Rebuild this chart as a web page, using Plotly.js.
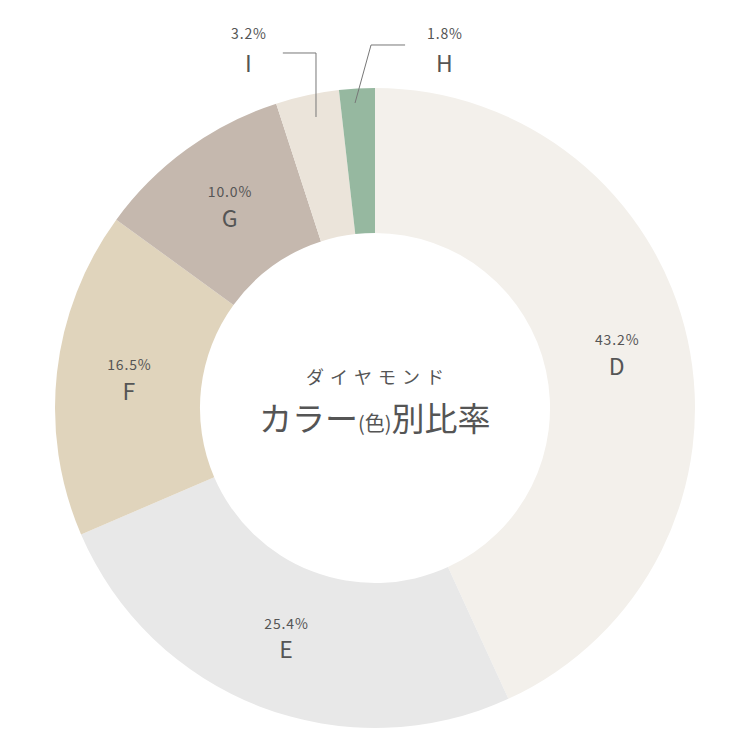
<!DOCTYPE html>
<html>
<head>
<meta charset="utf-8">
<script src="https://cdn.plot.ly/plotly-3.0.1.min.js"></script>
<style>body{margin:0;background:#fff}</style>
</head>
<body>
<div id="myDiv" style="width:750px;height:750px"></div>
<script>
var labels = ['D', 'E', 'F', 'G', 'I', 'H'];
var shares = [43.2, 25.4, 16.5, 10.0, 3.2, 1.8];
var colors = ['#f3f0eb', '#e8e8e8', '#e0d4bc', '#c5b8ae', '#ebe4da', '#96b8a0'];
var where = ['inside', 'inside', 'inside', 'inside', 'none', 'none'];

var txt = '#555555';
var font = 'Noto Sans CJK JP, Noto Sans, sans-serif';

// spaced-out percent strings, like the original's tracking
function spaced(s, sep) { return s.split('').join(sep); }
var pct = shares.map(function (v) { return spaced(v.toFixed(1) + '%', '\u200A'); });

var pie = {
  type: 'pie',
  labels: labels,
  values: shares,
  text: pct,
  sort: false,
  direction: 'clockwise',
  rotation: 0,
  hole: 0.547,
  marker: {colors: colors, line: {width: 0}},
  textposition: where,
  insidetextorientation: 'horizontal',
  texttemplate: '<span style="font-size:14px">%{text}</span><br>%{label}',
  textfont: {family: font, size: 23, color: txt},
  showlegend: false,
  hoverinfo: 'label+value'
};

function note(x, y, text, size) {
  return {xref: 'paper', yref: 'paper', x: x, y: y, xanchor: 'center', yanchor: 'middle',
    text: text, showarrow: false, font: {size: size, color: txt}};
}

var lay = {
  width: 750,
  height: 750,
  margin: {l: 55, r: 55, t: 88, b: 22},
  paper_bgcolor: '#ffffff',
  font: {family: font, color: txt},
  annotations: [
    note(0.5, 0.55, spaced('ダイヤモンド', '\u2004'), 18),
    note(0.5, 0.486, 'カラー<span style="font-size:20px">(色)</span>別比率', 33),
    // the two thin slices are labelled outside
    note(0.3016, 1.086, pct[4], 14),
    note(0.3016, 1.0406, labels[4], 23),
    note(0.608, 1.086, pct[5], 14),
    note(0.608, 1.0406, labels[5], 23)
  ],
  shapes: [
    {type: 'path', xref: 'paper', yref: 'paper', path: 'M 0.4078 0.9547 L 0.4078 1.0547 L 0.356 1.0547', line: {color: '#777', width: 1}},
    {type: 'path', xref: 'paper', yref: 'paper', path: 'M 0.4688 0.9766 L 0.4938 1.0672 L 0.547 1.0672', line: {color: '#777', width: 1}}
  ]
};

Plotly.newPlot('myDiv', [pie], lay, {displayModeBar: false});
</script>
</body>
</html>
